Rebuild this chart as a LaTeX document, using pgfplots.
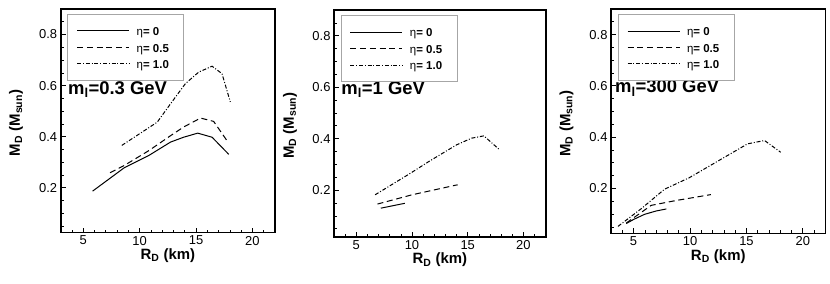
\documentclass[border=0pt]{standalone}
\usepackage{fontspec}
\setmainfont{Liberation Sans}
\usepackage{pgfplots}
\pgfplotsset{compat=1.18}
\pgfplotsset{
  myaxis/.style={
    scale only axis,
    xmin=3, xmax=22, ymin=0.025, ymax=0.9,
    xtick={5,10,15,20}, xticklabels={5,10,15,20},
    ytick={0.2,0.4,0.6,0.8}, yticklabels={0.2,0.4,0.6,0.8},
    minor xtick={4,6,7,8,9,11,12,13,14,16,17,18,19,21},
    minor ytick={0.05,0.1,0.15,0.25,0.3,0.35,0.45,0.5,0.55,0.65,0.7,0.75,0.85},
    tick pos=left, tick align=inside,
    major tick length=5bp, minor tick length=3bp,
    major tick style={black, line width=0.9bp},
    minor tick style={black, line width=0.7bp},
    axis line style={line width=1.6bp},
    tick label style={font=\fontsize{13}{13}\selectfont},
    xlabel={\textbf{R\textsubscript{D} (km)}},
    ylabel={\textbf{M\textsubscript{D} (M\textsubscript{sun})}},
    label style={font=\fontsize{15}{15}\selectfont},
    xlabel style={at={(rel axis cs:0.5,0)}, anchor=base, yshift=-26.8bp},
    ylabel style={at={(rel axis cs:-0.19,0.49)}, anchor=base},
    legend style={at={(rel axis cs:0.031,0.976)}, anchor=north west,
      draw=gray!70, line width=0.8bp, inner xsep=9bp, inner ysep=8bp,
      font=\fontsize{11.5}{11.5}\selectfont, cells={anchor=west},
      /tikz/every odd column/.append style={column sep=5bp}},
    legend image code/.code={\draw[#1, line width=1bp] (0bp,0bp) -- (52bp,0bp);},
    cycle list={{black, solid}, {black, solid}, {black, solid}},
    every axis plot/.append style={black, line width=1bp, no marks},
  },
  ddash/.style={dash pattern=on 6bp off 3.7bp},
  dashdot/.style={dash pattern=on 4bp off 1.8bp on 1bp off 1.8bp},
}
\newcommand{\ent}[1]{\makebox[36bp][l]{\rule[-4bp]{0pt}{15bp}η\textbf{= #1}}}
\begin{document}
\begin{tikzpicture}
\useasboundingbox (0,0) rectangle (830bp,-284bp);
% Panel 1
\begin{axis}[myaxis, at={(60.7bp,-232.5bp)}, anchor=south west, width=214.3bp, height=223.5bp]
\addplot[solid] coordinates {(5.83,0.187)(8.62,0.278)(10.83,0.327)(12.74,0.379)(13.9,0.398)(15.15,0.414)(16.42,0.398)(17.9,0.331)};
\addlegendentry{\ent{0}}
\addplot[ddash] coordinates {(7.38,0.259)(8.62,0.287)(10.83,0.346)(12.74,0.404)(13.9,0.438)(15.4,0.473)(16.56,0.46)(17.83,0.379)};
\addlegendentry{\ent{0.5}}
\addplot[dashdot] coordinates {(8.42,0.366)(11.56,0.457)(12.74,0.529)(14.06,0.608)(15.24,0.653)(16.42,0.676)(17.3,0.647)(18.04,0.536)};
\addlegendentry{\ent{1.0}}
\node[anchor=base west, inner sep=0pt, font=\bfseries\fontsize{18.5}{18.5}\selectfont] at (axis cs:3.64,0.565) {m\textsubscript{l}=0.3 GeV};
\end{axis}
% Panel 2
\begin{axis}[myaxis, at={(334bp,-237bp)}, anchor=south west, width=211.7bp, height=227bp, ymin=0.018]
\addplot[solid] coordinates {(7.2,0.13)(9.36,0.149)};
\addlegendentry{\ent{0}}
\addplot[ddash] coordinates {(6.9,0.146)(10.0,0.182)(14.1,0.221)};
\addlegendentry{\ent{0.5}}
\addplot[dashdot] coordinates {(6.69,0.182)(9.87,0.266)(11.5,0.311)(14.0,0.376)(15.35,0.402)(16.45,0.411)(17.78,0.36)};
\addlegendentry{\ent{1.0}}
\node[anchor=base west, inner sep=0pt, font=\bfseries\fontsize{18.5}{18.5}\selectfont] at (axis cs:3.65,0.573) {m\textsubscript{l}=1 GeV};
\end{axis}
% Panel 3
\begin{axis}[myaxis, at={(611bp,-233.3bp)}, anchor=south west, width=214.5bp, height=224.3bp]
\addplot[solid] coordinates {(4.35,0.063)(5.0,0.079)(5.97,0.099)(7.0,0.112)(7.9,0.12)};
\addlegendentry{\ent{0}}
\addplot[ddash] coordinates {(4.35,0.065)(6.56,0.134)(8.77,0.153)(11.85,0.176)};
\addlegendentry{\ent{0.5}}
\addplot[dashdot] coordinates {(3.62,0.052)(5.68,0.121)(7.74,0.197)(9.94,0.242)(15.1,0.374)(16.6,0.387)(18.03,0.341)};
\addlegendentry{\ent{1.0}}
\node[anchor=base west, inner sep=0pt, font=\bfseries\fontsize{18.5}{18.5}\selectfont] at (axis cs:3.35,0.573) {m\textsubscript{l}=300 GeV};
\end{axis}
\end{tikzpicture}
\end{document}
